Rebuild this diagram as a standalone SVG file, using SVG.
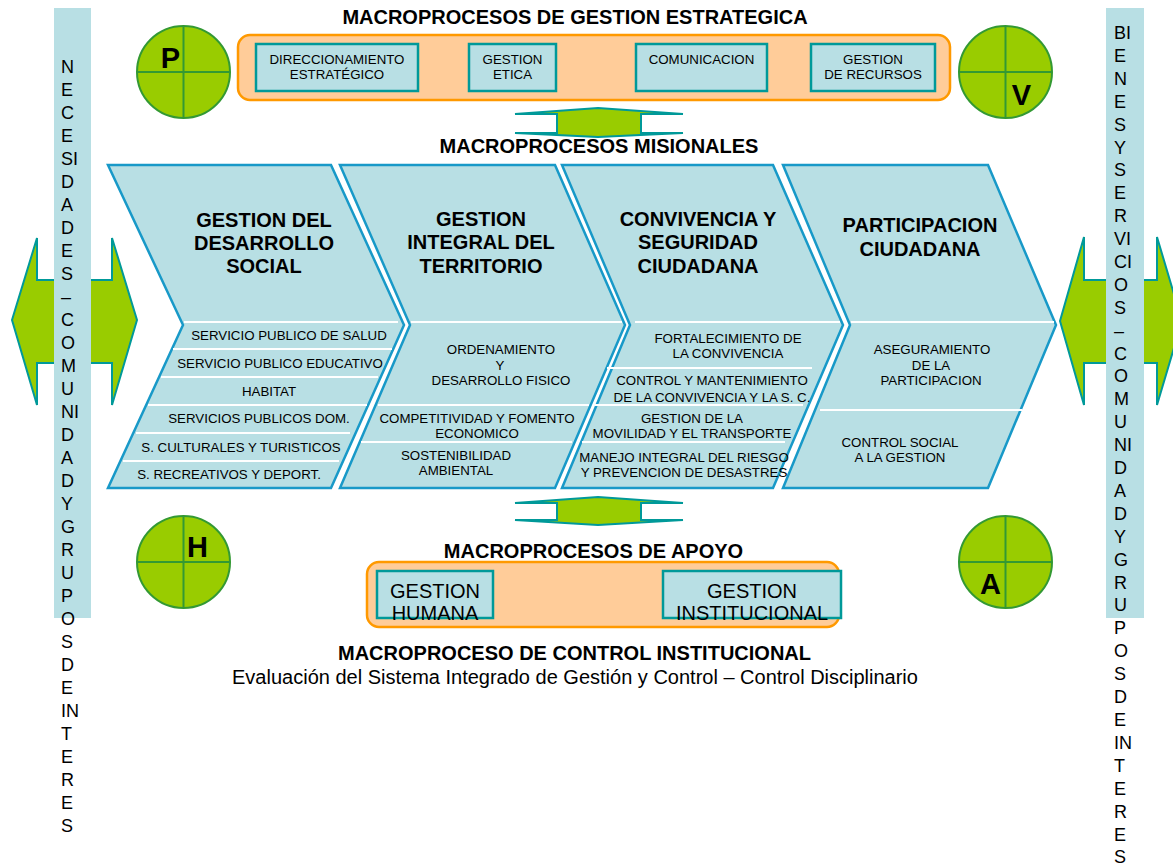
<svg xmlns="http://www.w3.org/2000/svg" width="1173" height="866" viewBox="0 0 1173 866">
<style>
text{font-family:"Liberation Sans",Arial,Helvetica,sans-serif;fill:#000}
.t{font-size:20px;font-weight:bold;text-anchor:middle}
.s{font-size:13.3px;text-anchor:middle}
.b{font-size:20px;text-anchor:middle}
.v{font-size:18px}
.pl{font-size:29px;font-weight:bold;text-anchor:middle}
.chev{fill:#B8DFE4;stroke:#1899C8;stroke-width:2.5}
.sep{stroke:#fff;stroke-width:2}
.box{fill:#B8DFE4;stroke:#009999;stroke-width:2.5}
.org{fill:#FFCC99;stroke:#FF9900;stroke-width:2.5}
.cir{fill:#99CC00;stroke:#339933;stroke-width:2}
.arw{fill:#99CC00;stroke:#009999;stroke-width:2;stroke-linejoin:miter}
.bar{fill:#B8DFE4}
</style>
<rect width="1173" height="866" fill="#fff"/>

<g id="connectors">
<polygon class="arw" points="12,320 37,238 37,280 112,280 112,238 137,320 112,405 112,363 37,363 37,405"/>
<polygon class="arw" points="1060,321 1084,237 1084,280 1157,280 1157,237 1182,321 1157,405 1157,363 1084,363 1084,405"/>
<polygon class="arw" points="598,108 683,114 641,114 641,133 683,133 598,137 515,133 557,133 557,114 515,114"/>
<polygon class="arw" points="598,497 683,503 641,503 641,520 683,520 598,525 515,520 557,520 557,503 515,503"/>
</g>

<g id="left-stakeholders">
<rect class="bar" x="54" y="8" width="37" height="610"/>
<text class="v" x="61" y="72.5"><tspan x="61">N</tspan><tspan x="61" dy="23">E</tspan><tspan x="61" dy="23">C</tspan><tspan x="61" dy="23">E</tspan><tspan x="61" dy="23">SI</tspan><tspan x="61" dy="23">D</tspan><tspan x="61" dy="23">A</tspan><tspan x="61" dy="23">D</tspan><tspan x="61" dy="23">E</tspan><tspan x="61" dy="23">S</tspan><tspan x="61" dy="23">–</tspan><tspan x="61" dy="23">C</tspan><tspan x="61" dy="23">O</tspan><tspan x="61" dy="23">M</tspan><tspan x="61" dy="23">U</tspan><tspan x="61" dy="23">NI</tspan><tspan x="61" dy="23">D</tspan><tspan x="61" dy="23">A</tspan><tspan x="61" dy="23">D</tspan><tspan x="61" dy="23">Y</tspan><tspan x="61" dy="23">G</tspan><tspan x="61" dy="23">R</tspan><tspan x="61" dy="23">U</tspan><tspan x="61" dy="23">P</tspan><tspan x="61" dy="23">O</tspan><tspan x="61" dy="23">S</tspan><tspan x="61" dy="23">D</tspan><tspan x="61" dy="23">E</tspan><tspan x="61" dy="23">IN</tspan><tspan x="61" dy="23">T</tspan><tspan x="61" dy="23">E</tspan><tspan x="61" dy="23">R</tspan><tspan x="61" dy="23">E</tspan><tspan x="61" dy="23">S</tspan></text>
</g>

<g id="right-stakeholders">
<rect class="bar" x="1106" y="8" width="38" height="610"/>
<text class="v" x="1114" y="39"><tspan x="1114">BI</tspan><tspan x="1114" dy="22.9">E</tspan><tspan x="1114" dy="22.9">N</tspan><tspan x="1114" dy="22.9">E</tspan><tspan x="1114" dy="22.9">S</tspan><tspan x="1114" dy="22.9">Y</tspan><tspan x="1114" dy="22.9">S</tspan><tspan x="1114" dy="22.9">E</tspan><tspan x="1114" dy="22.9">R</tspan><tspan x="1114" dy="22.9">VI</tspan><tspan x="1114" dy="22.9">CI</tspan><tspan x="1114" dy="22.9">O</tspan><tspan x="1114" dy="22.9">S</tspan><tspan x="1114" dy="22.9">–</tspan><tspan x="1114" dy="22.9">C</tspan><tspan x="1114" dy="22.9">O</tspan><tspan x="1114" dy="22.9">M</tspan><tspan x="1114" dy="22.9">U</tspan><tspan x="1114" dy="22.9">NI</tspan><tspan x="1114" dy="22.9">D</tspan><tspan x="1114" dy="22.9">A</tspan><tspan x="1114" dy="22.9">D</tspan><tspan x="1114" dy="22.9">Y</tspan><tspan x="1114" dy="22.9">G</tspan><tspan x="1114" dy="22.9">R</tspan><tspan x="1114" dy="22.9">U</tspan><tspan x="1114" dy="22.9">P</tspan><tspan x="1114" dy="22.9">O</tspan><tspan x="1114" dy="22.9">S</tspan><tspan x="1114" dy="22.9">D</tspan><tspan x="1114" dy="22.9">E</tspan><tspan x="1114" dy="22.9">IN</tspan><tspan x="1114" dy="22.9">T</tspan><tspan x="1114" dy="22.9">E</tspan><tspan x="1114" dy="22.9">R</tspan><tspan x="1114" dy="22.9">E</tspan><tspan x="1114" dy="22.9">S</tspan></text>
</g>

<g id="circle-p">
<ellipse class="cir" cx="183.5" cy="72" rx="46.5" ry="46"/>
<path d="M137,72H230M183.5,26V118" stroke="#339933" stroke-width="2"/>
<text class="pl" x="170.5" y="68">P</text>
</g>
<g id="circle-v">
<ellipse class="cir" cx="1005.5" cy="72" rx="46.5" ry="46"/>
<path d="M959,72H1052M1005.5,26V118" stroke="#339933" stroke-width="2"/>
<text class="pl" x="1021.5" y="105">V</text>
</g>
<g id="circle-h">
<ellipse class="cir" cx="183.5" cy="562" rx="46.5" ry="46"/>
<path d="M137,562H230M183.5,516V608" stroke="#339933" stroke-width="2"/>
<text class="pl" x="197.5" y="557">H</text>
</g>
<g id="circle-a">
<ellipse class="cir" cx="1005.5" cy="562" rx="46.5" ry="46"/>
<path d="M959,562H1052M1005.5,516V608" stroke="#339933" stroke-width="2"/>
<text class="pl" x="990.5" y="594">A</text>
</g>

<g id="estrategica">
<text class="t" x="575" y="24">MACROPROCESOS DE GESTION ESTRATEGICA</text>
<rect class="org" x="238" y="35" width="712" height="65" rx="12"/>
</g>
<g id="direccionamiento">
<rect class="box" x="256" y="44" width="162" height="47"/>
<text class="s" x="337" y="64">DIRECCIONAMIENTO</text>
<text class="s" x="337" y="79">ESTRATÉGICO</text>
</g>
<g id="gestion-etica">
<rect class="box" x="469" y="44" width="87" height="47"/>
<text class="s" x="512.5" y="64">GESTION</text>
<text class="s" x="512.5" y="79">ETICA</text>
</g>
<g id="comunicacion">
<rect class="box" x="636" y="44" width="131" height="47"/>
<text class="s" x="701.5" y="64">COMUNICACION</text>
</g>
<g id="gestion-recursos">
<rect class="box" x="811" y="44" width="124" height="47"/>
<text class="s" x="873" y="64">GESTION</text>
<text class="s" x="873" y="79">DE RECURSOS</text>
</g>

<g id="misionales-title">
<text class="t" x="599" y="153">MACROPROCESOS MISIONALES</text>
</g>

<g id="desarrollo-social">
<polygon class="chev" points="108,165 331,165 404,325 331,488 108,488 183,325"/>
<path class="sep" d="M184,322H398M173,349H392M161,377H378M148,405H367M136,433H350M123,461H339"/>
<text class="t" x="264" y="227">GESTION DEL</text>
<text class="t" x="264" y="250">DESARROLLO</text>
<text class="t" x="264" y="273">SOCIAL</text>
<text class="s" x="289" y="340">SERVICIO PUBLICO DE SALUD</text>
<text class="s" x="280" y="368">SERVICIO PUBLICO EDUCATIVO</text>
<text class="s" x="269" y="396">HABITAT</text>
<text class="s" x="259" y="423">SERVICIOS PUBLICOS DOM.</text>
<text class="s" x="241" y="452">S. CULTURALES Y TURISTICOS</text>
<text class="s" x="229" y="479">S. RECREATIVOS Y DEPORT.</text>
</g>

<g id="gestion-territorio">
<polygon class="chev" points="340,165 555,165 625,325 555,488 340,488 410,325"/>
<path class="sep" d="M411,322H622M378,405H589M361,442H572"/>
<text class="t" x="481" y="226">GESTION</text>
<text class="t" x="481" y="249">INTEGRAL DEL</text>
<text class="t" x="481" y="273">TERRITORIO</text>
<text class="s" x="501" y="354">ORDENAMIENTO</text>
<text class="s" x="500" y="370">Y</text>
<text class="s" x="501" y="385">DESARROLLO FISICO</text>
<text class="s" x="477" y="423">COMPETITIVIDAD Y FOMENTO</text>
<text class="s" x="477" y="438">ECONOMICO</text>
<text class="s" x="456" y="460">SOSTENIBILIDAD</text>
<text class="s" x="456" y="475">AMBIENTAL</text>
</g>

<g id="convivencia">
<polygon class="chev" points="562,165 773,165 843,325 773,488 562,488 630,325"/>
<path class="sep" d="M635,322H840M607,368H812M595,405H803M582,442H785"/>
<text class="t" x="698" y="226">CONVIVENCIA Y</text>
<text class="t" x="698" y="249">SEGURIDAD</text>
<text class="t" x="698" y="273">CIUDADANA</text>
<text class="s" x="728" y="343">FORTALECIMIENTO DE</text>
<text class="s" x="728" y="358">LA CONVIVENCIA</text>
<text class="s" x="712" y="385">CONTROL Y MANTENIMIENTO</text>
<text class="s" x="712" y="402">DE LA CONVIVENCIA Y LA S. C.</text>
<text class="s" x="692" y="423">GESTION DE LA</text>
<text class="s" x="692" y="438">MOVILIDAD Y EL TRANSPORTE</text>
<text class="s" x="684" y="462">MANEJO INTEGRAL DEL RIESGO</text>
<text class="s" x="684" y="477">Y PREVENCION DE DESASTRES</text>
</g>

<g id="participacion">
<polygon class="chev" points="783,165 988,165 1056,325 988,488 783,488 850,325"/>
<path class="sep" d="M851,322H1054M820,410H1022"/>
<text class="t" x="920" y="232">PARTICIPACION</text>
<text class="t" x="920" y="256">CIUDADANA</text>
<text class="s" x="932" y="354">ASEGURAMIENTO</text>
<text class="s" x="931" y="370">DE LA</text>
<text class="s" x="931" y="385">PARTICIPACION</text>
<text class="s" x="900" y="447">CONTROL SOCIAL</text>
<text class="s" x="900" y="462">A LA GESTION</text>
</g>

<g id="apoyo">
<text class="t" x="593.5" y="558">MACROPROCESOS DE APOYO</text>
<rect class="org" x="367" y="562" width="472" height="65" rx="12"/>
</g>
<g id="gestion-humana">
<rect class="box" x="377" y="571" width="116" height="47"/>
<text class="b" x="435" y="598">GESTION</text>
<text class="b" x="435" y="620">HUMANA</text>
</g>
<g id="gestion-institucional">
<rect class="box" x="663" y="571" width="178" height="47"/>
<text class="b" x="752" y="598">GESTION</text>
<text class="b" x="752" y="620">INSTITUCIONAL</text>
</g>

<g id="control-institucional">
<text class="t" x="574.5" y="660">MACROPROCESO DE CONTROL INSTITUCIONAL</text>
<text class="b" x="575" y="684">Evaluación del Sistema Integrado de Gestión y Control – Control Disciplinario</text>
</g>
</svg>
